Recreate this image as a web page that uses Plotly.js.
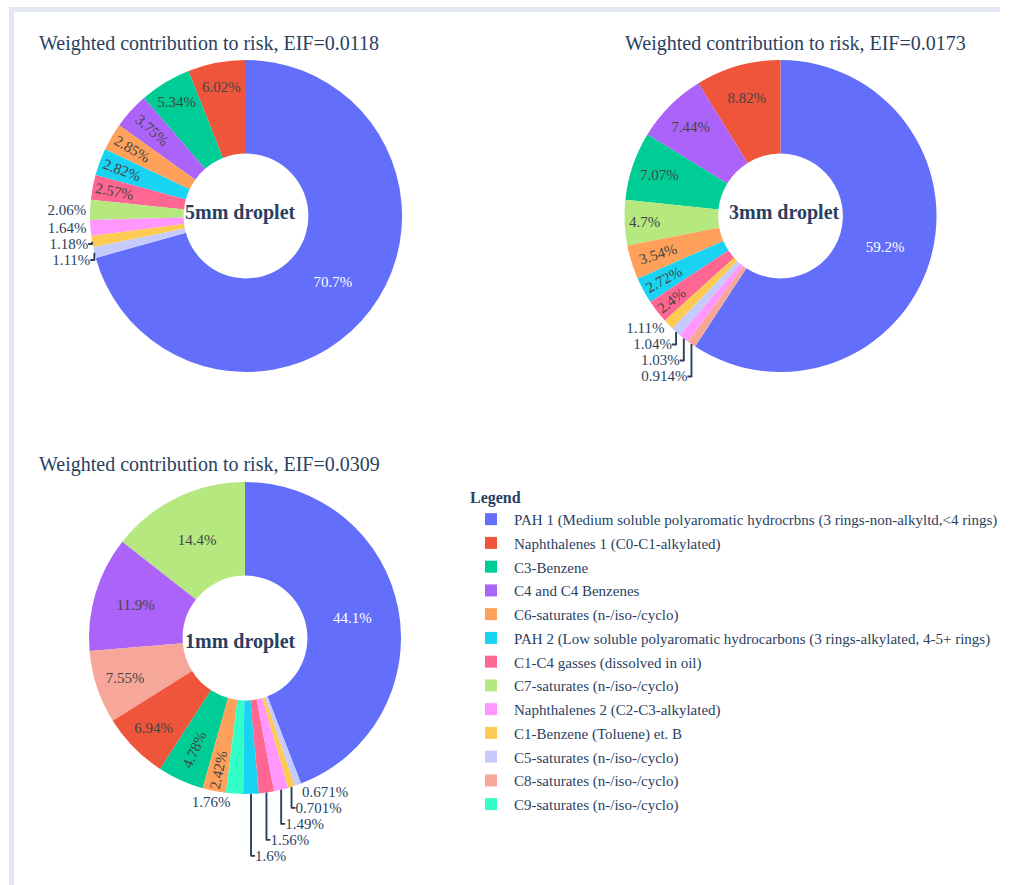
<!DOCTYPE html>
<html>
<head>
<meta charset="utf-8">
<script src="https://cdn.plot.ly/plotly-3.0.1.min.js"></script>
<style>
  html, body { margin: 0; padding: 0; background: #ffffff; overflow: hidden; }
  #frame {
    position: absolute; left: 9px; top: 7px;
    width: 986px; height: 873px;
    border-top: 5px solid #e3e7f3; border-left: 5px solid #e3e7f3;
    background: #ffffff;
  }
  #chart { width: 999px; height: 873px; }
</style>
</head>
<body>
<div id="frame"><div id="chart"></div></div>
<script>
// ---- data ----
const labels5mm = [
  "PAH 1 (Medium soluble polyaromatic hydrocrbns (3 rings-non-alkyltd,<4 rings)",
  "Naphthalenes 1 (C0-C1-alkylated)",
  "C3-Benzene",
  "C4 and C4 Benzenes",
  "C6-saturates (n-/iso-/cyclo)",
  "PAH 2 (Low soluble polyaromatic hydrocarbons (3 rings-alkylated, 4-5+ rings)",
  "C1-C4 gasses (dissolved in oil)",
  "C7-saturates (n-/iso-/cyclo)",
  "Naphthalenes 2 (C2-C3-alkylated)",
  "C1-Benzene (Toluene) et. B",
  "C5-saturates (n-/iso-/cyclo)"
];
const values5mm = [70.7, 6.02, 5.34, 3.75, 2.85, 2.82, 2.57, 2.06, 1.64, 1.18, 1.11];

const labels3mm = [
  "PAH 1 (Medium soluble polyaromatic hydrocrbns (3 rings-non-alkyltd,<4 rings)",
  "Naphthalenes 1 (C0-C1-alkylated)",
  "C4 and C4 Benzenes",
  "C3-Benzene",
  "C7-saturates (n-/iso-/cyclo)",
  "C6-saturates (n-/iso-/cyclo)",
  "PAH 2 (Low soluble polyaromatic hydrocarbons (3 rings-alkylated, 4-5+ rings)",
  "C1-C4 gasses (dissolved in oil)",
  "C1-Benzene (Toluene) et. B",
  "C5-saturates (n-/iso-/cyclo)",
  "Naphthalenes 2 (C2-C3-alkylated)",
  "C8-saturates (n-/iso-/cyclo)"
];
const values3mm = [59.2, 8.82, 7.44, 7.07, 4.7, 3.54, 2.72, 2.4, 1.11, 1.04, 1.03, 0.914];

const labels1mm = [
  "PAH 1 (Medium soluble polyaromatic hydrocrbns (3 rings-non-alkyltd,<4 rings)",
  "C7-saturates (n-/iso-/cyclo)",
  "C4 and C4 Benzenes",
  "C8-saturates (n-/iso-/cyclo)",
  "Naphthalenes 1 (C0-C1-alkylated)",
  "C3-Benzene",
  "C6-saturates (n-/iso-/cyclo)",
  "C9-saturates (n-/iso-/cyclo)",
  "PAH 2 (Low soluble polyaromatic hydrocarbons (3 rings-alkylated, 4-5+ rings)",
  "C1-C4 gasses (dissolved in oil)",
  "Naphthalenes 2 (C2-C3-alkylated)",
  "C1-Benzene (Toluene) et. B",
  "C5-saturates (n-/iso-/cyclo)"
];
const values1mm = [44.1, 14.4, 11.9, 7.55, 6.94, 4.78, 2.42, 1.76, 1.6, 1.56, 1.49, 0.701, 0.671];

const pieTitles = [
  "Weighted contribution to risk, EIF=0.0118",
  "Weighted contribution to risk, EIF=0.0173",
  "Weighted contribution to risk, EIF=0.0309"
];
const centerLabels = ["5mm droplet", "3mm droplet", "1mm droplet"];

// ---- styles ----
const colorway = ['#636efa', '#EF553B', '#00cc96', '#ab63fa', '#FFA15A',
                  '#19d3f3', '#FF6692', '#B6E880', '#FF97FF', '#FECB52'];
const fontFamily = '"Liberation Serif", "Times New Roman", Times, serif';

function pieTrace(labels, values, dx, dy) {
  return {
    type: 'pie', labels: labels, values: values,
    hole: 0.4,
    texttemplate: '%{value}%',
    hovertemplate: '%{label}<br>%{value}%<extra></extra>',
    domain: { x: dx, y: dy },
    automargin: false
  };
}

const data = [
  pieTrace(labels5mm, values5mm, [0.07608, 0.38839], [0.58763, 0.94502]),
  pieTrace(labels3mm, values3mm, [0.61111, 0.92342], [0.58763, 0.94502]),
  pieTrace(labels1mm, values1mm, [0.07508, 0.38739], [0.10424, 0.46163]),
  // invisible spacer entry so that legend rows get the reference's spacing
  { type: 'scatter', x: [null], y: [null], name: ' ', legendgroup: 'spacer',
    visible: 'legendonly', mode: 'markers', marker: { color: 'rgba(0,0,0,0)' },
    hoverinfo: 'skip' }
];

const titlePos = [[0.02302, 0.96449], [0.61011, 0.96449], [0.02302, 0.48110]];
const centerPos = [[0.22623, 0.76976], [0.77147, 0.76976], [0.22653, 0.27869]];

const annotations = [];
for (let i = 0; i < 3; i++) {
  annotations.push({
    text: pieTitles[i], xref: 'paper', yref: 'paper',
    x: titlePos[i][0], y: titlePos[i][1], xanchor: 'left', yanchor: 'middle',
    showarrow: false, font: { size: 20, color: '#2a3f5f', family: fontFamily }
  });
  annotations.push({
    text: '<b>' + centerLabels[i] + '</b>', xref: 'paper', yref: 'paper',
    x: centerPos[i][0], y: centerPos[i][1], xanchor: 'center', yanchor: 'middle',
    showarrow: false, font: { size: 20, color: '#2a3f5f', family: fontFamily }
  });
}

const layout = {
  width: 999, height: 873,
  margin: { l: 0, r: 0, t: 0, b: 0 },
  paper_bgcolor: 'rgba(0,0,0,0)', plot_bgcolor: 'rgba(0,0,0,0)',
  font: { family: fontFamily, size: 15, color: '#2a3f5f' },
  colorway: colorway,
  showlegend: true,
  legend: {
    x: 0.45445, xanchor: 'left', y: 0.4615, yanchor: 'top',
    title: { text: '<b>Legend</b>', font: { size: 16, color: '#2a3f5f' } },
    font: { size: 15, color: '#2a3f5f' },
    itemwidth: 36,
    traceorder: 'grouped', tracegroupgap: 1.25,
    bgcolor: 'rgba(0,0,0,0)'
  },
  xaxis: { visible: false }, yaxis: { visible: false },
  annotations: annotations
};

Plotly.newPlot('chart', data, layout, { displayModeBar: false, staticPlot: true });
</script>
</body>
</html>
